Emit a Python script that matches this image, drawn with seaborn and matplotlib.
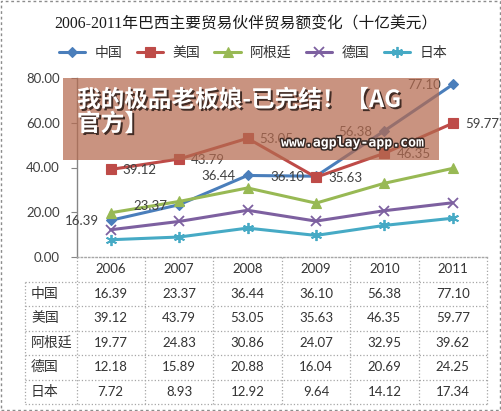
import numpy as np
import pandas as pd
import matplotlib
matplotlib.use('Agg')
import matplotlib.pyplot as plt
import matplotlib.patheffects as pe
import matplotlib.colors as mcolors
from matplotlib.patches import Rectangle
import seaborn as sns

# ---------------- data ----------------
years = ['2006', '2007', '2008', '2009', '2010', '2011']
series = ['中国', '美国', '阿根廷', '德国', '日本']
china = [16.39, 23.37, 36.44, 36.10, 56.38, 77.10]
usa = [39.12, 43.79, 53.05, 35.63, 46.35, 59.77]
argentina = [19.77, 24.83, 30.86, 24.07, 32.95, 39.62]
germany = [12.18, 15.89, 20.88, 16.04, 20.69, 24.25]
japan = [7.72, 8.93, 12.92, 9.64, 14.12, 17.34]
y_ticks = [0, 20, 40, 60, 80]
title = '2006-2011年巴西主要贸易伙伴贸易额变化（十亿美元）'
watermark1 = '我的极品老板娘-已完结！【AG'
watermark2 = '官方】'
watermark_url = 'www.agplay-app.com'

values = {'中国': china, '美国': usa, '阿根廷': argentina, '德国': germany, '日本': japan}
labelled = ['中国', '美国']

# ---------------- style ----------------
colors = {'中国': '#4A7EBB', '美国': '#BE4B48', '阿根廷': '#98B954',
          '德国': '#7D60A0', '日本': '#46AAC5'}
markers = {'中国': 'D', '美国': 's', '阿根廷': '^', '德国': 'x', '日本': (6, 2, 0)}
msizes = {'中国': 5.5, '美国': 6.5, '阿根廷': 6.5, '德国': 7, '日本': 8}

sns.set_theme(style='white')
plt.rcParams['font.family'] = ['Lato', 'Noto Sans CJK SC', 'DejaVu Sans']

W, H = 501, 411
def fx(p):
    return p / W
def fy(p):
    return 1 - p / H

df = pd.DataFrame([{'x': i, 'year': y, 'series': s, 'value': values[s][i]}
                   for s in series for i, y in enumerate(years)])

fig = plt.figure(figsize=(W / 100, H / 100), dpi=100)
fig.patch.set_facecolor('white')

ax_l, ax_r, ax_t, ax_b = 76.5, 487, 78, 257
ax = fig.add_axes([fx(ax_l), fy(ax_b), (ax_r - ax_l) / W, (ax_b - ax_t) / H])
sns.lineplot(data=df, x='x', y='value', hue='series',
             hue_order=series, palette=colors, linewidth=2.2, legend=False, ax=ax)

hex2s = {mcolors.to_hex(c): s for s, c in colors.items()}
handles = {}
for line in ax.lines:
    s = hex2s.get(mcolors.to_hex(line.get_color()))
    if s is None:
        continue
    c = colors[s]
    line.set_marker(markers[s])
    line.set_markeredgecolor(c)
    line.set_markerfacecolor(c)
    line.set_markersize(msizes[s])
    line.set_markeredgewidth(1.3 if s in ('德国', '日本') else 0.8)
    handles[s] = line

ax.set_xlim(-0.5, len(years) - 0.5)
ax.set_ylim(0, 80)
ax.set_yticks(y_ticks)
ax.set_yticklabels([f'{v:.2f}' for v in y_ticks], fontsize=9.5, color='#404040')
ax.set_xticks([])
ax.set_xlabel('')
ax.set_ylabel('')
ax.tick_params(axis='y', which='major', direction='out', length=4, width=0.8,
               color='#868686', pad=8, left=True)
for sp in ('top', 'right'):
    ax.spines[sp].set_visible(False)
ax.spines['left'].set_color('#868686')
ax.spines['left'].set_linewidth(1.0)
ax.spines['bottom'].set_color('#a6a6a6')
ax.spines['bottom'].set_linestyle(':')
ax.spines['bottom'].set_linewidth(1.0)

# data labels
for s in labelled:
    for i, v in enumerate(values[s]):
        if s == '中国':
            ax.annotate(f'{v:.2f}', (i, v), xytext=(-12, -1), textcoords='offset pixels',
                        ha='right', va='center', fontsize=9.5, color='#404040')
        else:
            ax.annotate(f'{v:.2f}', (i, v), xytext=(12, -1), textcoords='offset pixels',
                        ha='left', va='center', fontsize=9.5, color='#404040')

# title
fig.text(fx(246), fy(24), title, ha='center', va='center', fontsize=11.3,
         family=['Liberation Serif', 'Noto Sans CJK SC'], color='#1a1a1a')

# legend
fig.legend([handles[s] for s in series], series, loc='center',
           bbox_to_anchor=(fx(253), fy(53)), ncol=5, frameon=False,
           prop={'family': ['Noto Sans CJK SC'], 'size': 10},
           labelcolor='#333333', handlelength=1.9, handletextpad=0.65,
           columnspacing=1.05, borderaxespad=0, borderpad=0)

# ---------------- data table ----------------
tb_t, tb_b = 257, 404
tax = fig.add_axes([fx(ax_l), fy(tb_b), (ax_r - ax_l) / W, (tb_b - tb_t) / H])
tax.set_xlim(-0.5, len(years) - 0.5)
tax.set_ylim(len(series) - 0.5, -1.5)
tax.axis('off')
col_px = (ax_r - ax_l) / len(years)
label_left = -0.5 - (ax_l - 25) / col_px
lc, lw, ls = '#a6a6a6', 0.9, ':'
for r in np.arange(-0.5, len(series)):
    tax.plot([label_left, len(years) - 0.5], [r, r], color=lc, lw=lw, ls=ls, clip_on=False)
for k in range(len(years) + 1):
    tax.plot([k - 0.5, k - 0.5], [-1.5, len(series) - 0.5], color=lc, lw=lw, ls=ls, clip_on=False)
tax.plot([label_left, label_left], [-0.5, len(series) - 0.5], color=lc, lw=lw, ls=ls, clip_on=False)
for i, y in enumerate(years):
    tax.text(i, -1, y, ha='center', va='center', fontsize=9.5, color='#333333')
for r, s in enumerate(series):
    tax.text(label_left + 6 / col_px, r, s, ha='left', va='center', fontsize=10,
             color='#333333', family=['Noto Sans CJK SC'], clip_on=False)
    for i, v in enumerate(values[s]):
        tax.text(i, r, f'{v:.2f}', ha='center', va='center', fontsize=9.5, color='#333333')

# figure border
fig.patches.append(Rectangle((0.002, 0.003), 0.996, 0.994, transform=fig.transFigure,
                             fill=False, ec='#8c8c8c', lw=1.0, ls=(0, (2, 2)), zorder=10))

# ---------------- watermark overlay ----------------
fig.patches.append(Rectangle((fx(63), fy(160)), (439 - 63) / W, (160 - 78) / H,
                             transform=fig.transFigure, fc='#b46a4f', ec='none',
                             alpha=0.72, zorder=5))
shadow = [pe.SimplePatchShadow(offset=(1.4, -1.4), shadow_rgbFace='#2a1a15', alpha=0.85),
          pe.Normal()]
fig.text(fx(77), fy(100), watermark1, ha='left', va='center', fontsize=17,
         fontweight='bold', color='white', family=['Noto Sans CJK SC'],
         zorder=6, path_effects=shadow)
fig.text(fx(77), fy(124), watermark2, ha='left', va='center', fontsize=17,
         fontweight='bold', color='white', family=['Noto Sans CJK SC'],
         zorder=6, path_effects=shadow)
fig.text(fx(353), fy(143), watermark_url, ha='center', va='center', fontsize=9.5,
         fontweight='bold', color='white', family=['DejaVu Sans Mono'], zorder=6,
         path_effects=[pe.withStroke(linewidth=2.2, foreground='#3a2a25')])

fig.savefig('out.png', dpi=100, facecolor='white')
